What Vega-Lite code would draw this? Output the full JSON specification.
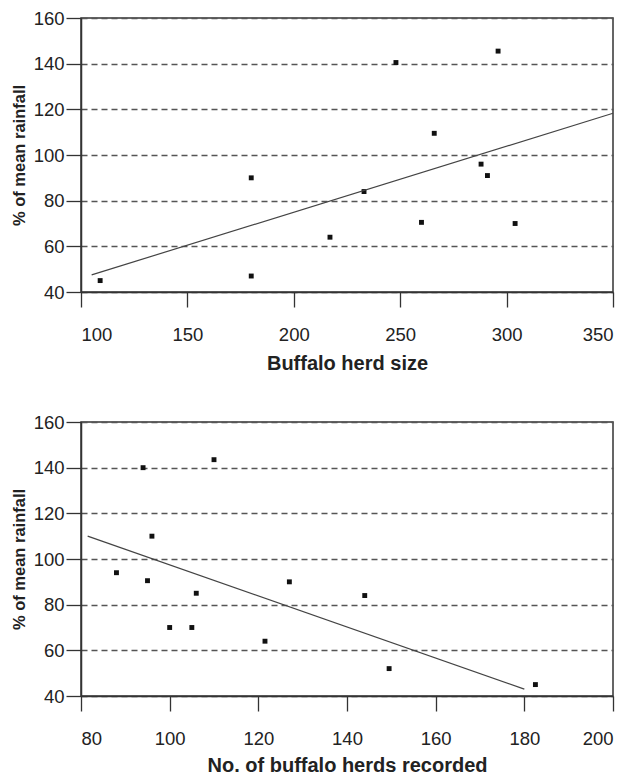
{
  "$schema": "https://vega.github.io/schema/vega-lite/v6.json",
  "padding": {"left": 10, "top": 8, "right": 5, "bottom": 0},
  "spacing": 37,
  "background": "white",
  "config": {
    "font": "Liberation Sans",
    "view": {"stroke": "#333", "strokeWidth": 1.5},
    "axis": {
      "labelFont": "Liberation Sans",
      "labelFontSize": 18.5,
      "labelColor": "#222",
      "titleFont": "Liberation Sans",
      "titleFontWeight": "bold",
      "titleColor": "#222",
      "domainColor": "#333",
      "domainWidth": 1.5,
      "tickColor": "#333",
      "tickWidth": 1.3,
      "tickSize": 15
    }
  },
  "datasets": {
    "herdsize": [
      {"x": 109, "y": 45},
      {"x": 180, "y": 90},
      {"x": 180, "y": 47},
      {"x": 217, "y": 64},
      {"x": 233, "y": 84},
      {"x": 248, "y": 140.5},
      {"x": 260, "y": 70.5},
      {"x": 266, "y": 109.5},
      {"x": 288, "y": 96},
      {"x": 291, "y": 91},
      {"x": 296, "y": 145.5},
      {"x": 304, "y": 70}
    ],
    "herdsizeFit": [
      {"x": 105, "y": 47.5},
      {"x": 350, "y": 118.3}
    ],
    "herds": [
      {"x": 88, "y": 94},
      {"x": 94, "y": 140},
      {"x": 95, "y": 90.5},
      {"x": 96, "y": 110},
      {"x": 100, "y": 70},
      {"x": 105, "y": 70},
      {"x": 106, "y": 85},
      {"x": 110, "y": 143.5},
      {"x": 121.5, "y": 64},
      {"x": 127, "y": 90},
      {"x": 144, "y": 84},
      {"x": 149.5, "y": 52},
      {"x": 182.5, "y": 45}
    ],
    "herdsFit": [
      {"x": 81.5, "y": 110},
      {"x": 180, "y": 43}
    ]
  },
  "vconcat": [
    {
      "width": 532,
      "height": 274,
      "layer": [
        {
          "data": {"name": "herdsize"},
          "mark": {"type": "point", "shape": "square", "filled": true, "color": "#111", "size": 24, "opacity": 1},
          "encoding": {
            "x": {"field": "x", "type": "quantitative",
              "scale": {"domain": [100, 350], "nice": false, "zero": false},
              "axis": {"title": "Buffalo herd size", "titleFontSize": 20, "values": [100, 150, 200, 250, 300, 350], "grid": false, "labelPadding": 18, "titlePadding": 10}},
            "y": {"field": "y", "type": "quantitative",
              "scale": {"domain": [40, 160], "nice": false, "zero": false},
              "axis": {"title": "% of mean rainfall", "titleFontSize": 16.5, "values": [40, 60, 80, 100, 120, 140, 160], "grid": true, "gridColor": "#555", "gridDash": [6, 4], "gridWidth": 1.3, "labelPadding": 2, "titlePadding": 6}}
          }
        },
        {
          "data": {"name": "herdsizeFit"},
          "mark": {"type": "line", "color": "#444", "strokeWidth": 1.2},
          "encoding": {
            "x": {"field": "x", "type": "quantitative"},
            "y": {"field": "y", "type": "quantitative"}
          }
        }
      ]
    },
    {
      "width": 532,
      "height": 274,
      "layer": [
        {
          "data": {"name": "herds"},
          "mark": {"type": "point", "shape": "square", "filled": true, "color": "#111", "size": 24, "opacity": 1},
          "encoding": {
            "x": {"field": "x", "type": "quantitative",
              "scale": {"domain": [80, 200], "nice": false, "zero": false},
              "axis": {"title": "No. of buffalo herds recorded", "titleFontSize": 20, "values": [80, 100, 120, 140, 160, 180, 200], "grid": false, "labelPadding": 18, "titlePadding": 8}},
            "y": {"field": "y", "type": "quantitative",
              "scale": {"domain": [40, 160], "nice": false, "zero": false},
              "axis": {"title": "% of mean rainfall", "titleFontSize": 16.5, "values": [40, 60, 80, 100, 120, 140, 160], "grid": true, "gridColor": "#555", "gridDash": [6, 4], "gridWidth": 1.3, "labelPadding": 2, "titlePadding": 6}}
          }
        },
        {
          "data": {"name": "herdsFit"},
          "mark": {"type": "line", "color": "#444", "strokeWidth": 1.2},
          "encoding": {
            "x": {"field": "x", "type": "quantitative"},
            "y": {"field": "y", "type": "quantitative"}
          }
        }
      ]
    }
  ]
}
